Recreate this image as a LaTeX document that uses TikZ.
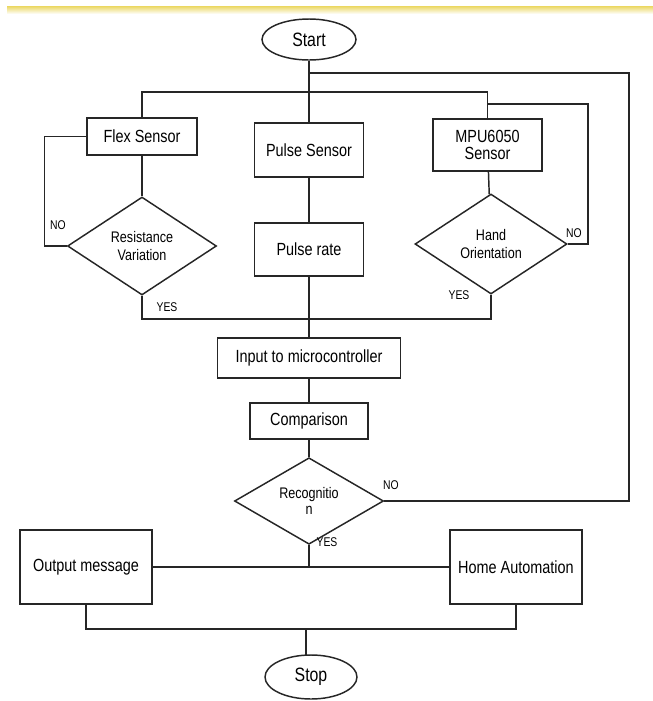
\documentclass[tikz,border=0pt]{standalone}
\usepackage{fontspec}
\setmainfont{Liberation Sans}[FakeStretch=0.82]
\usetikzlibrary{shapes,positioning,calc}

\begin{document}
\begin{tikzpicture}[x=0.75pt,y=-0.75pt,
    line/.style={line width=1.1pt, draw=black!85},
    box/.style={draw=black!85, line width=1.1pt, rectangle, align=center, font=\fontsize{13.2}{14.5}\selectfont, inner sep=2pt},
    term/.style={draw=black!85, line width=1.1pt, ellipse, inner sep=0pt, font=\fontsize{14.5}{16}\selectfont},
    decide/.style={draw=black!85, line width=1.1pt, diamond, inner sep=0pt, align=center, font=\fontsize{11.5}{14}\selectfont},
    tag/.style={font=\fontsize{9.5}{10}\selectfont, inner sep=0pt}]
    \useasboundingbox (0,0) rectangle (653,701);

    % Top band
    \shade [top color=yellow!55!brown!70, bottom color=white] (7,6) rectangle (653,14);

    % Terminals
    \node [term, minimum width=70.5pt, minimum height=30.75pt] (start) at (309,39.5) {Start};
    \node [term, minimum width=69pt, minimum height=33pt] (stop) at (311,677) {Stop};

    % Sensors
    \node [box, minimum width=82.5pt, minimum height=27.75pt] (flex) at (142,136.5) {Flex Sensor};
    \node [box, minimum width=81.75pt, minimum height=40.5pt] (pulse) at (309,150) {Pulse Sensor};
    \node [box, minimum width=81.75pt, minimum height=39pt] (mpu) at (487.5,145) {MPU6050\\[-2pt]Sensor};

    % Checks
    \node [decide, minimum width=111.75pt, minimum height=73.5pt] (resist) at (142,246) {Resistance\\Variation};
    \node [box, minimum width=81.75pt, minimum height=39.75pt] (rate) at (309,249.5) {Pulse rate};
    \node [decide, minimum width=114pt, minimum height=75pt] (hand) at (491,244) {Hand\\Orientation};

    % Processing
    \node [box, minimum width=137.25pt, minimum height=30pt] (input) at (309,358) {Input to microcontroller};
    \node [box, minimum width=88.5pt, minimum height=27pt] (compare) at (309,421) {Comparison};
    \node [decide, minimum width=111.75pt, minimum height=55pt] (recog) at (309,501) {Recognitio\\[-2pt]n};

    % Outputs
    \node [box, minimum width=99pt, minimum height=55.5pt] (output) at (86,567) {Output message};
    \node [box, minimum width=99pt, minimum height=55.5pt] (home) at (516,567) {Home Automation};

    % Main line
    \draw [line] (start.south) -- (pulse.north);
    \draw [line] (pulse) -- (rate);
    \draw [line] (rate) -- (input);
    \draw [line] (input) -- (compare);
    \draw [line] (compare) -- (recog);

    % Split to side sensors
    \coordinate (split) at (309,92);
    \draw [line] (flex.north) |- (split) -| (mpu.north);
    \draw [line] (flex) -- (resist);
    \draw [line] (mpu) -- (hand);

    % NO loops
    \draw [line] (flex.west) -- ++(-42,0) |- (resist.west);
    \draw [line] (487.5,104) -- (588,104) |- (hand.east);
    \coordinate (back) at (309,73);
    \draw [line] (back) -- (629,73) |- (recog.east);

    % YES joins
    \draw [line] (resist.south) |- (309,319);
    \draw [line] (hand.south) |- (309,319);

    % Results
    \draw [line] (recog.south) -- (309,567);
    \draw [line] (output.east) -- (home.west);
    \draw [line] (output.south) -- (86,629) -| (home.south);
    \draw [line] (306,629) -- (306,655);

    % Labels
    \node [tag] (noA) at (58,225) {NO};
    \node [tag] (yesA) at (167,307) {YES};
    \node [tag] (noB) at (574,233) {NO};
    \node [tag] (yesB) at (459,295) {YES};
    \node [tag] (noC) at (391,485) {NO};
    \node [tag] (yesC) at (327,542) {YES};
\end{tikzpicture}
\end{document}
